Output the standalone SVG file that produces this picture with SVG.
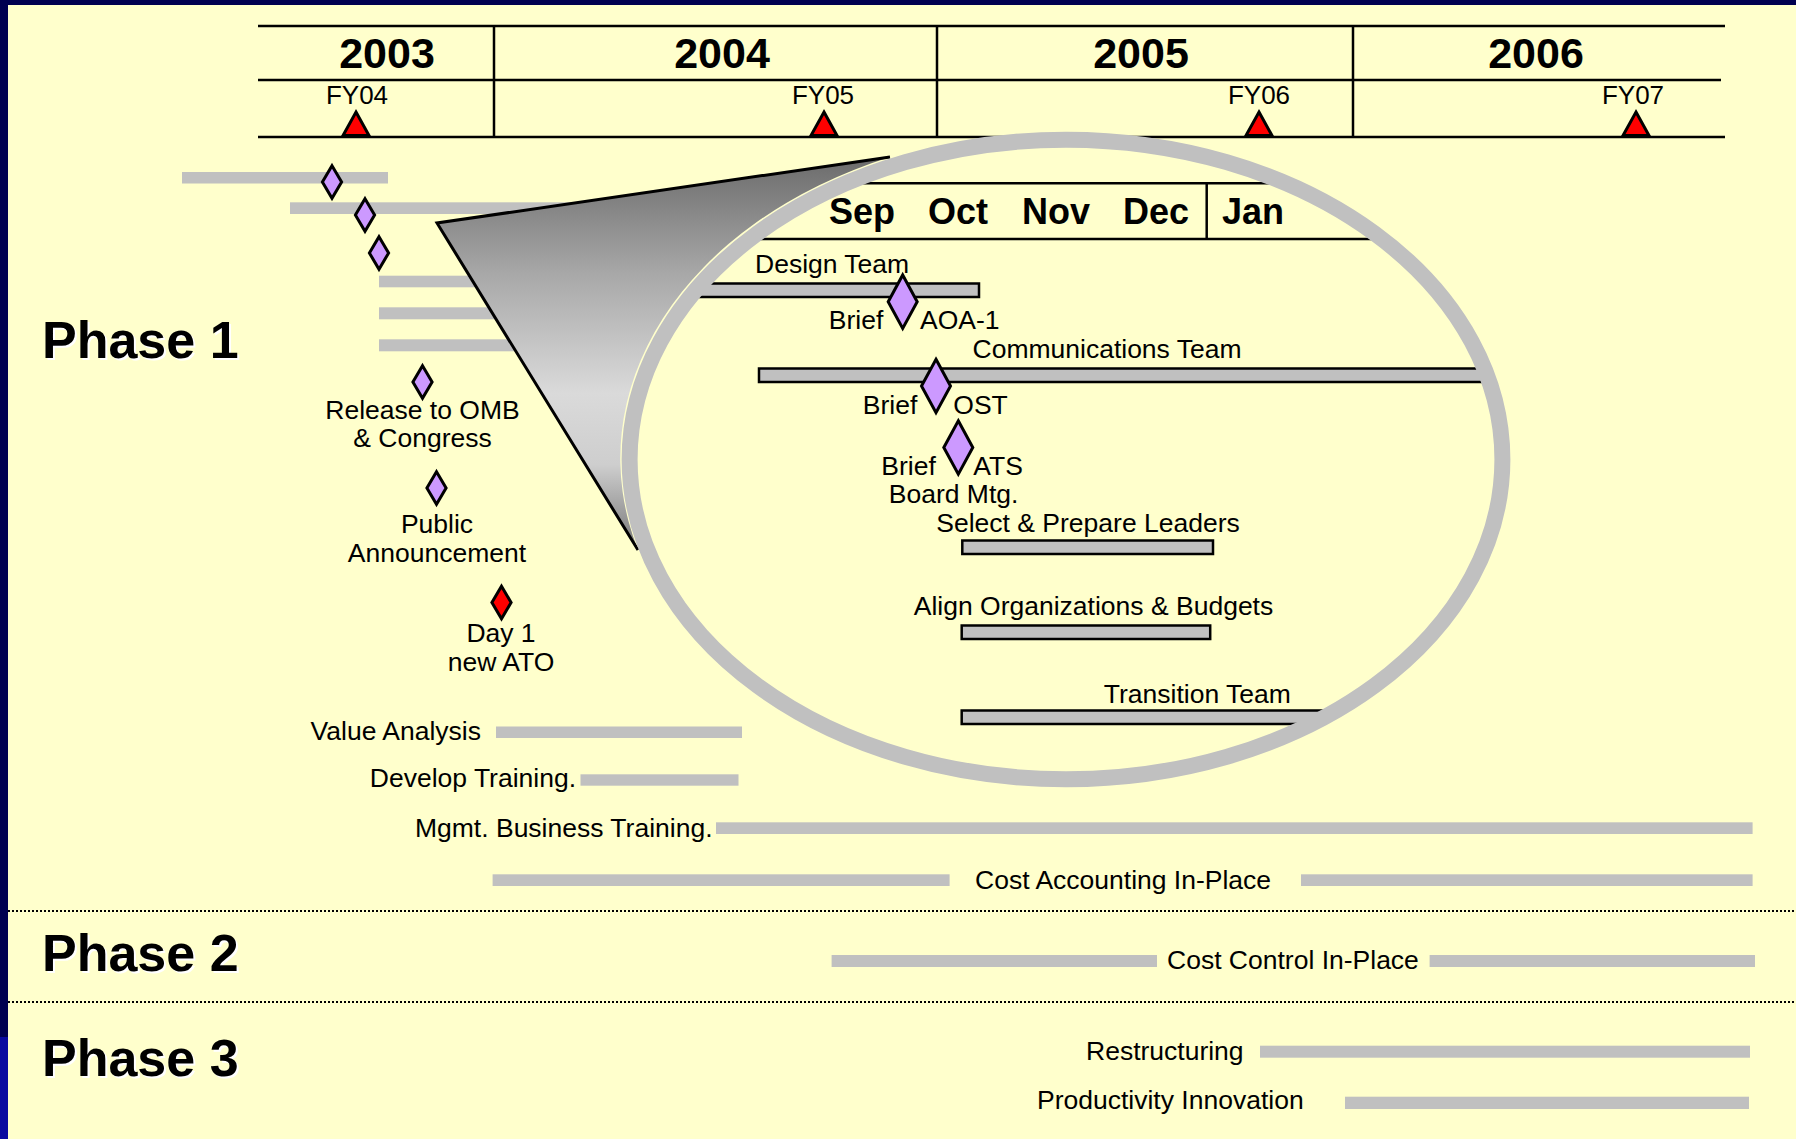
<svg xmlns="http://www.w3.org/2000/svg" width="1796" height="1139" viewBox="0 0 1796 1139">
  <style>
    .t { font-family: "Liberation Sans", Arial, sans-serif; font-size: 26.5px; fill: #000; }
    .fy { font-family: "Liberation Sans", Arial, sans-serif; font-size: 26px; fill: #000; }
    .yr { font-family: "Liberation Sans", Arial, sans-serif; font-size: 43px; font-weight: bold; fill: #000; }
    .mo { font-family: "Liberation Sans", Arial, sans-serif; font-size: 36px; font-weight: bold; fill: #000; }
    .ph { font-family: "Liberation Sans", Arial, sans-serif; font-size: 52px; font-weight: bold; fill: #000; }
    .phs { font-family: "Liberation Sans", Arial, sans-serif; font-size: 52px; font-weight: bold; fill: #fff; }
    .rule { stroke: #000; stroke-width: 2.5; fill: none; }
    .bar { fill: #c0c0c0; }
    .obar { fill: #c0c0c0; stroke: #000; stroke-width: 2.5; }
    .ms { fill: #cc99ff; stroke: #000; stroke-width: 3; }
    .msr { fill: #ff0000; stroke: #000; stroke-width: 3; }
    .fyt { fill: #ff0000; stroke: #000; stroke-width: 3; }
    .sep { stroke: #000; stroke-width: 2; stroke-dasharray: 2 2; fill: none; }
  </style>
  <defs>
    <path id="dia" d="M0,-16.2 L9.6,0 L0,16.2 L-9.6,0 Z"/>
    <path id="diaL" d="M0,-26.7 L14.5,0 L0,26.7 L-14.5,0 Z"/>
    <path id="tri" d="M0,112 L13,135.5 L-13,135.5 Z"/>
    <linearGradient id="funnelFill" gradientUnits="userSpaceOnUse" x1="0" y1="155" x2="0" y2="552">
      <stop offset="0" stop-color="#6a6a6a"/>
      <stop offset="0.3" stop-color="#a8a8a8"/>
      <stop offset="0.6" stop-color="#dadada"/>
      <stop offset="0.78" stop-color="#cecece"/>
      <stop offset="1" stop-color="#747474"/>
    </linearGradient>
    <clipPath id="lensClip">
      <ellipse cx="1066" cy="459.5" rx="436" ry="320"/>
    </clipPath>
  </defs>

  <!-- page background and frame -->
  <rect x="0" y="0" width="1796" height="1139" fill="#ffffcc"/>
  <rect x="0" y="0" width="1796" height="5" fill="#000050"/>
  <rect x="0" y="0" width="8" height="1139" fill="#000050"/>
  <rect x="0" y="1037" width="8" height="102" fill="#0a0aa0"/>

  <!-- timeline header -->
  <g id="timeline-header">
    <line class="rule" x1="258" y1="26" x2="1725" y2="26"/>
    <line class="rule" x1="258" y1="80" x2="1721" y2="80"/>
    <line class="rule" x1="258" y1="137" x2="1725" y2="137"/>
    <line class="rule" x1="494" y1="26" x2="494" y2="137"/>
    <line class="rule" x1="937" y1="26" x2="937" y2="137"/>
    <line class="rule" x1="1353" y1="26" x2="1353" y2="137"/>
    <text class="yr" x="387" y="68" text-anchor="middle">2003</text>
    <text class="yr" x="722" y="68" text-anchor="middle">2004</text>
    <text class="yr" x="1141" y="68" text-anchor="middle">2005</text>
    <text class="yr" x="1536" y="68" text-anchor="middle">2006</text>
    <g id="fy04"><text class="fy" x="357" y="104" text-anchor="middle">FY04</text><use href="#tri" class="fyt" x="356"/></g>
    <g id="fy05"><text class="fy" x="823" y="104" text-anchor="middle">FY05</text><use href="#tri" class="fyt" x="824"/></g>
    <g id="fy06"><text class="fy" x="1259" y="104" text-anchor="middle">FY06</text><use href="#tri" class="fyt" x="1259"/></g>
    <g id="fy07"><text class="fy" x="1633" y="104" text-anchor="middle">FY07</text><use href="#tri" class="fyt" x="1636"/></g>
  </g>

  <!-- phase separators -->
  <line class="sep" x1="8" y1="911" x2="1796" y2="911"/>
  <line class="sep" x1="8" y1="1002" x2="1796" y2="1002"/>

  <!-- phase titles -->
  <g id="phase-1"><text class="phs" x="44" y="360">Phase 1</text><text class="ph" x="42" y="358">Phase 1</text></g>
  <g id="phase-2"><text class="phs" x="44" y="973">Phase 2</text><text class="ph" x="42" y="971">Phase 2</text></g>
  <g id="phase-3"><text class="phs" x="44" y="1078">Phase 3</text><text class="ph" x="42" y="1076">Phase 3</text></g>

  <!-- phase 1 overview bars (run beneath the callout) -->
  <g id="p1-bar-1"><rect class="bar" x="182" y="172" width="206" height="11.5"/></g>
  <g id="p1-bar-2"><rect class="bar" x="290" y="202.3" width="420" height="11.7"/></g>
  <g id="p1-bar-3"><rect class="bar" x="379" y="275.7" width="200" height="11.6"/></g>
  <g id="p1-bar-4"><rect class="bar" x="379" y="307.3" width="200" height="12"/></g>
  <g id="p1-bar-5"><rect class="bar" x="379" y="339.3" width="200" height="12"/></g>

  <!-- phase 1 milestones -->
  <g id="ms-1"><use href="#dia" class="ms" x="332" y="182"/></g>
  <g id="ms-2"><use href="#dia" class="ms" x="365" y="215"/></g>
  <g id="ms-3"><use href="#dia" class="ms" x="379" y="253"/></g>
  <g id="ms-release">
    <use href="#dia" class="ms" x="422.5" y="382"/>
    <text class="t" x="422.5" y="419" text-anchor="middle">Release to OMB</text>
    <text class="t" x="422.5" y="447" text-anchor="middle">&amp; Congress</text>
  </g>
  <g id="ms-public">
    <use href="#dia" class="ms" x="436.5" y="488"/>
    <text class="t" x="437" y="533" text-anchor="middle">Public</text>
    <text class="t" x="437" y="562" text-anchor="middle">Announcement</text>
  </g>
  <g id="ms-day1">
    <use href="#dia" class="msr" x="501.5" y="602.5"/>
    <text class="t" x="501" y="642" text-anchor="middle">Day 1</text>
    <text class="t" x="501" y="671" text-anchor="middle">new ATO</text>
  </g>

  <!-- magnifier callout: funnel, lens and its detail view -->
  <g id="callout">
    <path d="M437,223 L890,157 A444.4 327.8 0 0 0 638,550 Z" fill="url(#funnelFill)"/>
    <path d="M890,157 L437,223 L638,550" fill="none" stroke="#000" stroke-width="3" stroke-linejoin="miter"/>
    <ellipse cx="1066" cy="459.5" rx="436.4" ry="319.8" fill="#ffffcc"/>
    <g clip-path="url(#lensClip)">
      <g id="month-header">
        <line class="rule" x1="600" y1="183.3" x2="1520" y2="183.3"/>
        <line class="rule" x1="600" y1="239" x2="1520" y2="239"/>
        <line class="rule" x1="1206.7" y1="183.3" x2="1206.7" y2="239"/>
        <text class="mo" x="829" y="224">Sep</text>
        <text class="mo" x="928" y="224">Oct</text>
        <text class="mo" x="1022" y="224">Nov</text>
        <text class="mo" x="1123" y="224">Dec</text>
        <text class="mo" x="1222" y="224">Jan</text>
      </g>
      <g id="design-team">
        <text class="t" x="755" y="272.5">Design Team</text>
        <rect class="obar" x="640" y="283.5" width="339" height="13.5"/>
      </g>
      <g id="communications-team">
        <text class="t" x="972.5" y="358.3">Communications Team</text>
        <rect class="obar" x="759" y="368.5" width="800" height="13.5"/>
      </g>
      <g id="brief-aoa1">
        <use href="#diaL" class="ms" x="902.7" y="301.7"/>
        <text class="t" x="828.8" y="329.3">Brief</text>
        <text class="t" x="920" y="329.3">AOA-1</text>
      </g>
      <g id="brief-ost">
        <use href="#diaL" class="ms" x="936" y="386"/>
        <text class="t" x="862.8" y="414">Brief</text>
        <text class="t" x="953.3" y="414">OST</text>
      </g>
      <g id="brief-ats">
        <use href="#diaL" class="ms" x="958.3" y="447.5"/>
        <text class="t" x="881.3" y="475">Brief</text>
        <text class="t" x="973.3" y="475">ATS</text>
        <text class="t" x="888.8" y="502.7">Board Mtg.</text>
      </g>
      <g id="select-leaders">
        <text class="t" x="936.3" y="531.7">Select &amp; Prepare Leaders</text>
        <rect class="obar" x="962.3" y="540.5" width="250.7" height="13.5"/>
      </g>
      <g id="align-orgs">
        <text class="t" x="913.8" y="615">Align Organizations &amp; Budgets</text>
        <rect class="obar" x="961.7" y="625.5" width="248.5" height="13.5"/>
      </g>
      <g id="transition-team">
        <text class="t" x="1103.8" y="702.7">Transition Team</text>
        <rect class="obar" x="961.7" y="710.5" width="500" height="13.5"/>
      </g>
    </g>
    <ellipse cx="1066" cy="459.5" rx="436.4" ry="319.8" fill="none" stroke="#c0c0c0" stroke-width="16"/>
  </g>

  <!-- lower task rows -->
  <g id="value-analysis">
    <text class="t" x="481" y="740" text-anchor="end">Value Analysis</text>
    <rect class="bar" x="496" y="726.5" width="246" height="11.5"/>
  </g>
  <g id="develop-training">
    <text class="t" x="576" y="787" text-anchor="end">Develop Training.</text>
    <rect class="bar" x="580.5" y="774.3" width="158" height="11.4"/>
  </g>
  <g id="mgmt-training">
    <text class="t" x="712.5" y="836.5" text-anchor="end">Mgmt. Business Training.</text>
    <rect class="bar" x="716" y="822.3" width="1036.6" height="11.7"/>
  </g>
  <g id="cost-accounting">
    <rect class="bar" x="492.6" y="874.3" width="457" height="11.7"/>
    <text class="t" x="975" y="888.6">Cost Accounting In-Place</text>
    <rect class="bar" x="1301" y="874.3" width="451.6" height="11.7"/>
  </g>
  <g id="cost-control">
    <rect class="bar" x="831.6" y="955" width="325.4" height="12"/>
    <text class="t" x="1167" y="968.5">Cost Control In-Place</text>
    <rect class="bar" x="1429.6" y="955" width="325.4" height="12"/>
  </g>
  <g id="restructuring">
    <text class="t" x="1086" y="1059.5">Restructuring</text>
    <rect class="bar" x="1260" y="1045.7" width="490" height="12"/>
  </g>
  <g id="productivity-innovation">
    <text class="t" x="1037" y="1108.6">Productivity Innovation</text>
    <rect class="bar" x="1345" y="1096.7" width="404" height="12.3"/>
  </g>

  <!-- no connectors in this chart -->
  <g id="connectors"/>
</svg>
